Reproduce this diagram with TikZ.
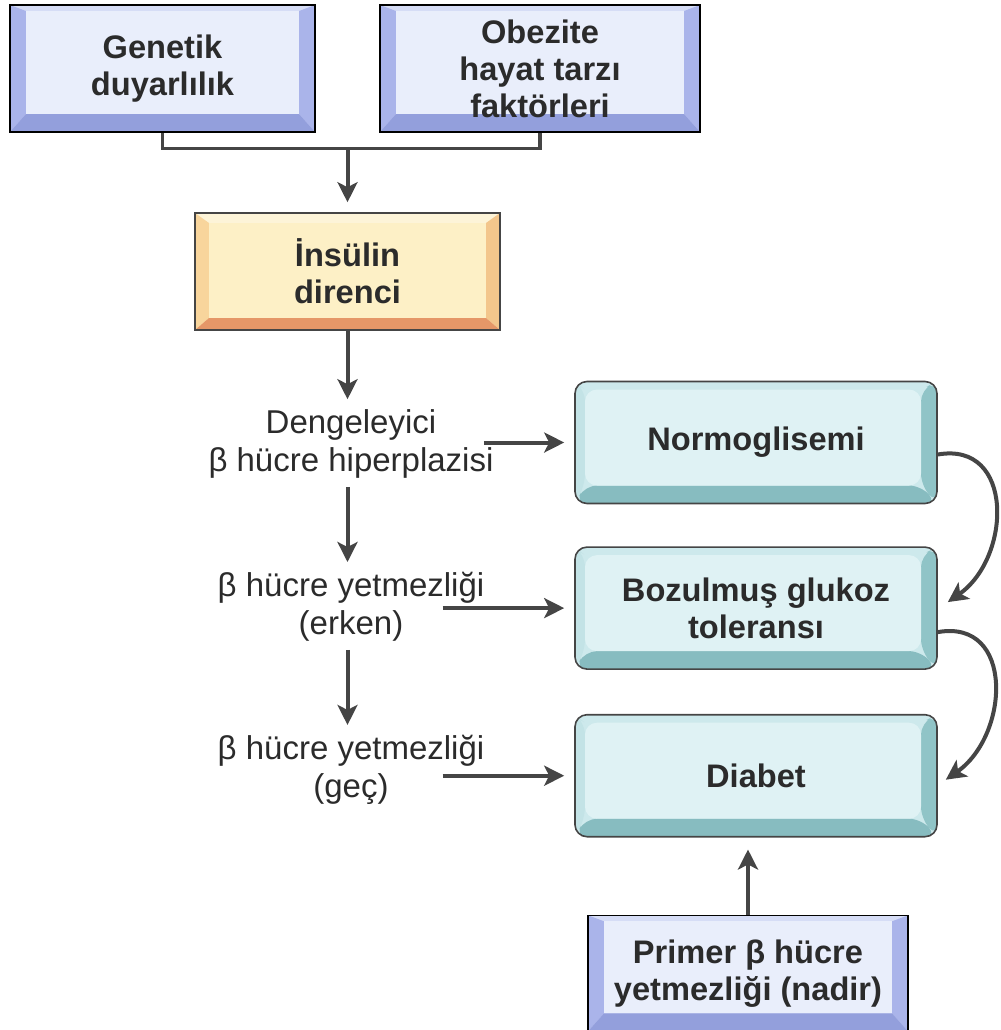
\documentclass[tikz,border=0pt]{standalone}
\usepackage{fontspec}
\setmainfont{Liberation Sans}
\usetikzlibrary{positioning,calc}
\usetikzlibrary{arrows.meta}
\definecolor{lineg}{rgb}{0.27,0.27,0.27}
\definecolor{textc}{rgb}{0.17,0.17,0.17}
\definecolor{blueface}{HTML}{E9EEFB}
\definecolor{bluetop}{HTML}{D6DDF6}
\definecolor{blueside}{HTML}{AAB4EA}
\definecolor{bluebot}{HTML}{939FDC}
\definecolor{orface}{HTML}{FDF0C6}
\definecolor{ortop}{HTML}{FDF4D8}
\definecolor{orleft}{HTML}{F8D59C}
\definecolor{orright}{HTML}{F3C68C}
\definecolor{orbot}{HTML}{E59768}
\definecolor{tlface}{HTML}{DFF2F4}
\definecolor{tltop}{HTML}{CDE9EC}
\definecolor{tlleft}{HTML}{C3E3E6}
\definecolor{tlright}{HTML}{90C4C7}
\definecolor{tlbot}{HTML}{87BCC0}

\begin{document}
\begin{tikzpicture}[
  x = 0.5pt,
  y = 0.5pt,
  bevelw/.code n args = {4}{\def\bvT{#1}\def\bvL{#2}\def\bvR{#3}\def\bvB{#4}},
  box/.style n args = {5}{
    draw = lineg,
    line width = 0.8pt,
    align = center,
    text = textc,
    font = \bfseries\fontsize{16.3}{18.5}\selectfont,
    path picture = {
      \fill[#2] (path picture bounding box.south west) rectangle (path picture bounding box.north east);
      \fill[#3] (path picture bounding box.south west) -- (path picture bounding box.north west)
        -- ([xshift=\bvL,yshift=-\bvT]path picture bounding box.north west)
        -- ([xshift=\bvL,yshift=\bvB]path picture bounding box.south west) -- cycle;
      \fill[#4] (path picture bounding box.south east) -- (path picture bounding box.north east)
        -- ([xshift=-\bvR,yshift=-\bvT]path picture bounding box.north east)
        -- ([xshift=-\bvR,yshift=\bvB]path picture bounding box.south east) -- cycle;
      \fill[#5] (path picture bounding box.south west) -- (path picture bounding box.south east)
        -- ([xshift=-\bvR,yshift=\bvB]path picture bounding box.south east)
        -- ([xshift=\bvL,yshift=\bvB]path picture bounding box.south west) -- cycle;
      \fill[#1] ([xshift=\bvL,yshift=\bvB]path picture bounding box.south west)
        rectangle ([xshift=-\bvR,yshift=-\bvT]path picture bounding box.north east);
    },
  },
  bluebox/.style = {
    bevelw = {3pt}{8pt}{8pt}{9pt},
    box = {blueface}{bluetop}{blueside}{blueside}{bluebot},
    draw = black,
  },
  orbox/.style = {
    bevelw = {5pt}{7pt}{7pt}{6pt},
    box = {orface}{ortop}{orleft}{orright}{orbot},
  },
  tlbox/.style = {
    bevelw = {4pt}{5pt}{8pt}{9pt},
    box = {tlface}{tltop}{tlleft}{tlright}{tlbot},
    rounded corners = 6pt,
    minimum width = 181pt,
    minimum height = 61pt,
  },
  step text/.style = {
    align = center,
    text = textc,
    inner sep = 1pt,
    font = \fontsize{16.5}{19}\selectfont,
  },
  arrowline/.style = {
    draw = lineg,
    line width = 2pt,
  },
  >={Stealth[length=10pt,width=10pt,inset=2.5pt]},
]
  \useasboundingbox (0,0) rectangle (1001,-1030);

  % top causes
  \node[bluebox,minimum width=152.5pt,minimum height=63.5pt] (gen) at (162.5,-68.5) {Genetik\\duyarlılık};
  \node[bluebox,minimum width=160pt,minimum height=63.5pt] (obe) at (540,-68.5) {Obezite\\hayat tarzı\\faktörleri};
  \draw[arrowline,line width=1.6pt] (gen.south) -- ++(0,-16) coordinate (gl) -| (obe.south);

  \node[orbox,minimum width=152.5pt,minimum height=58.5pt] (ins) at (347.5,-271.5) {İnsülin\\direnci};
  \path (gl -| ins.north) edge[arrowline,->,shorten >=5pt] (ins.north);

  % left column
  \node[step text] (den) at (351,-444) {Dengeleyici\\β hücre hiperplazisi};
  \node[step text] (erk) at (351,-607) {β hücre yetmezliği\\(erken)};
  \node[step text] (gec) at (351,-770) {β hücre yetmezliği\\(geç)};
  \path (ins) edge[arrowline,->,shorten >=4pt] (den.north -| ins.south);
  \path (den.south -| ins.south) edge[arrowline,->,shorten <=3pt,shorten >=4pt] (erk.north -| ins.south);
  \path (erk.south -| ins.south) edge[arrowline,->,shorten <=3pt,shorten >=4pt] (gec.north -| ins.south);

  % right column
  \node[tlbox] (nor) at (756,-442.5) {Normoglisemi};
  \node[tlbox] (boz) [below=21pt of nor] {Bozulmuş glukoz\\toleransı};
  \node[tlbox] (dia) [below=22pt of boz] {Diabet};
  \node[bluebox,minimum width=160pt,minimum height=58pt] (pri) [below=38.5pt of dia,xshift=-4pt] {Primer β hücre\\yetmezliği (nadir)};

  \path ([xshift=-6pt]nor.west -| den.east) edge[arrowline,->,shorten >=5pt] (nor.west);
  \path ([xshift=-22pt]boz.west -| erk.east) edge[arrowline,->,shorten >=5pt] (boz.west);
  \path ([xshift=-22pt]dia.west -| gec.east) edge[arrowline,->,shorten >=5pt] (dia.west);
  \path (pri) edge[arrowline,->,shorten >=6pt] (pri |- dia.south);

  \path ([yshift=-6pt]nor.east) edge[arrowline,->,out=10,in=35,looseness=1.35] ([xshift=5pt,yshift=3pt]boz.east);
  \path ([yshift=-12pt]boz.east) edge[arrowline,->,out=10,in=35,looseness=1.35] ([xshift=4pt,yshift=-2pt]dia.east);
\end{tikzpicture}
\end{document}
